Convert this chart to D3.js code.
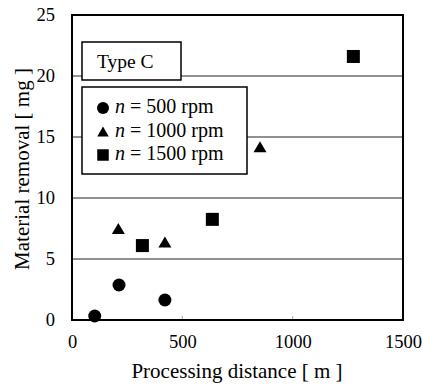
<!DOCTYPE html>
<html>
<head>
<meta charset="utf-8">
<script src="https://cdn.jsdelivr.net/npm/d3@7"></script>
<style>
  body { margin: 0; background: #fff; }
</style>
</head>
<body>
<svg width="422" height="385"></svg>
<script>
// 데이터
const series = ["n500", "n1000", "n1500"];
const seriesLabels = ["500 rpm", "1000 rpm", "1500 rpm"];
const n500 = [[103, 0.33], [213, 2.87], [421, 1.64]];
const n1000 = [[210, 7.5], [421, 6.4], [852, 14.2]];
const n1500 = [[319, 6.1], [636, 8.25], [1275, 21.6]];
const xTicks = [0, 500, 1000, 1500];
const yTicks = [0, 5, 10, 15, 20, 25];

const FONT = "Liberation Serif";
const svg = d3.select("svg").attr("font-family", FONT);
const plotL = 72, plotR = 403, plotT = 15, plotB = 320;

const x = d3.scaleLinear().domain([0, 1500]).range([plotL, plotR]);
const y = d3.scaleLinear().domain([0, 25]).range([plotB, plotT]);

// 그리드
svg.append("g").selectAll("line")
  .data(yTicks.filter(d => d > 0 && d < 25))
  .join("line")
  .attr("x1", plotL).attr("x2", plotR)
  .attr("y1", d => y(d)).attr("y2", d => y(d))
  .attr("stroke", "#222").attr("stroke-width", 1);

// x축
const xAxis = svg.append("g")
  .attr("transform", `translate(0,${plotB})`)
  .call(d3.axisBottom(x).tickValues(xTicks).tickFormat(d3.format("d")).tickSize(0).tickPadding(15))
  .attr("font-family", FONT).attr("font-size", 18.5);
xAxis.select(".domain").remove();

// 안쪽 눈금
svg.append("g").selectAll("line")
  .data([500, 1000])
  .join("line")
  .attr("x1", d => x(d)).attr("x2", d => x(d))
  .attr("y1", plotB).attr("y2", plotB - 4)
  .attr("stroke", "#aaa");

// y축
const yAxis = svg.append("g")
  .attr("transform", `translate(${plotL},0)`)
  .call(d3.axisLeft(y).tickValues(yTicks).tickSize(0).tickPadding(17))
  .attr("font-family", FONT).attr("font-size", 18.5);
yAxis.select(".domain").remove();

// 테두리
svg.append("rect")
  .attr("x", plotL).attr("y", plotT)
  .attr("width", plotR - plotL).attr("height", plotB - plotT)
  .attr("fill", "none").attr("stroke", "#000").attr("stroke-width", 2);

// 축 제목
svg.append("text")
  .attr("x", 237).attr("y", 378)
  .attr("text-anchor", "middle")
  .attr("font-size", 21)
  .text("Processing distance [ m ]");

svg.append("text")
  .attr("transform", "translate(29,169) rotate(-90)")
  .attr("text-anchor", "middle")
  .attr("font-size", 21)
  .text("Material removal [ mg ]");

// 마커
function drawMarker(g, kind, cx, cy, s) {
  if (kind === "n500") {
    g.append("circle").attr("cx", cx).attr("cy", cy).attr("r", s * 0.5).attr("fill", "#000");
  } else if (kind === "n1000") {
    const h = s * 0.85;
    g.append("path")
      .attr("d", `M${cx},${cy - h / 2}L${cx + s / 2},${cy + h / 2}L${cx - s / 2},${cy + h / 2}Z`)
      .attr("fill", "#000");
  } else {
    g.append("rect").attr("x", cx - s / 2).attr("y", cy - s / 2)
      .attr("width", s).attr("height", s).attr("fill", "#000");
  }
}

const data = { n500, n1000, n1500 };
const pts = svg.append("g");
series.forEach(k => {
  data[k].forEach(d => drawMarker(pts, k, x(d[0]), y(d[1]), 13));
});

// Type C 상자
svg.append("rect")
  .attr("x", 82).attr("y", 42).attr("width", 99).attr("height", 38)
  .attr("fill", "#fff").attr("stroke", "#000").attr("stroke-width", 1.5);
svg.append("text")
  .attr("x", 97).attr("y", 68)
  .attr("font-size", 19.5)
  .text("Type C");

// 범례
svg.append("rect")
  .attr("x", 82).attr("y", 87).attr("width", 165).attr("height", 87)
  .attr("fill", "#fff").attr("stroke", "#000").attr("stroke-width", 1.5);

const leg = svg.append("g");
series.forEach((k, i) => {
  const ly = 108 + i * 23.5;
  drawMarker(leg, k, 103, ly, k === "n500" ? 12 : 11.5);
  const t = leg.append("text")
    .attr("x", 115).attr("y", ly + 5)
    .attr("font-size", 20);
  t.append("tspan").attr("font-style", "italic").text("n");
  t.append("tspan").text(" = " + seriesLabels[i]);
});
</script>
</body>
</html>
